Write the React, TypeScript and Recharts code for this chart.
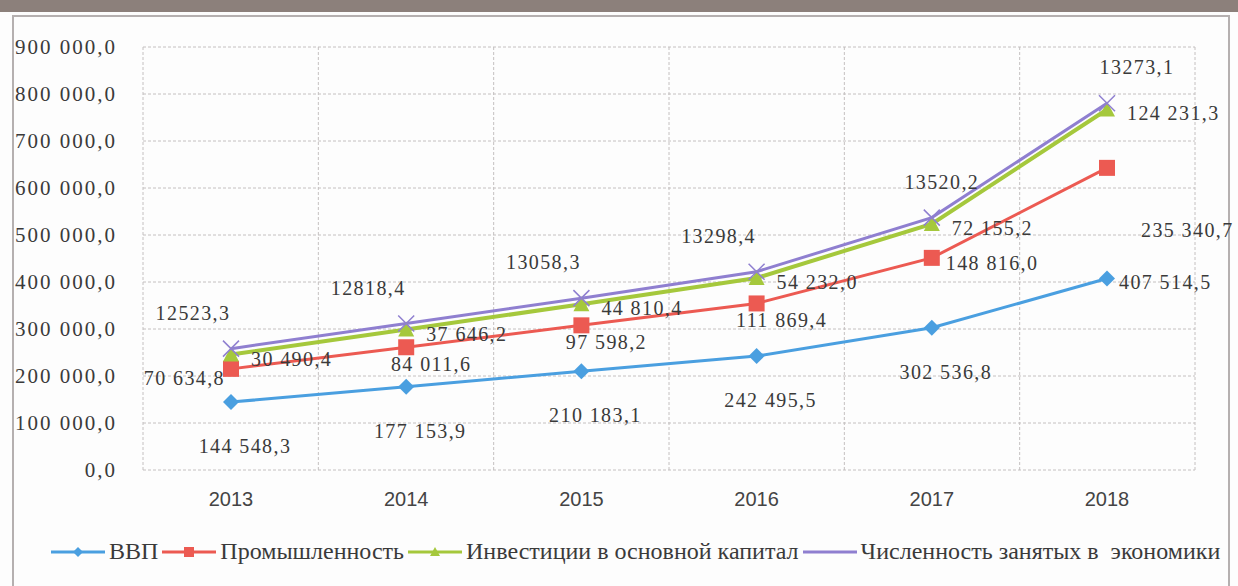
import { AreaChart, Area, XAxis, YAxis, CartesianGrid } from "recharts";

const years = ["2013", "2014", "2015", "2016", "2017", "2018"];
const gdp = [144548.3, 177153.9, 210183.1, 242495.5, 302536.8, 407514.5];
const industry = [70634.8, 84011.6, 97598.2, 111869.4, 148816.0, 235340.7];
const investment = [30490.4, 37646.2, 44810.4, 54232.0, 72155.2, 124231.3];
const employed = [12523.3, 12818.4, 13058.3, 13298.4, 13520.2, 13273.1];
const yTicks = [0, 100000, 200000, 300000, 400000, 500000, 600000, 700000, 800000, 900000];

const names = {
  gdp: "ВВП",
  industry: "Промышленность",
  investment: "Инвестиции в основной капитал",
  employed: "Численность занятых в  экономики",
};

const colors = {
  gdp: "#4a9fe0",
  industry: "#ec5a52",
  investment: "#a5c83c",
  employed: "#8f7fd0",
};

const data = years.map((year, i) => ({
  year,
  gdp: gdp[i],
  industry: industry[i],
  investment: investment[i],
  employed: employed[i],
}));

const serif = "'Liberation Serif', 'Times New Roman', serif";

// 900 000,0
const fmtSpaced = (v: number) => {
  const [int, dec] = v.toFixed(1).split(".");
  return int.replace(/\B(?=(\d{3})+(?!\d))/g, " ") + "," + dec;
};
const fmtPlain = (v: number) => v.toFixed(1).replace(".", ",");

const Diamond = (props: any) => {
  const { cx, cy, key } = props;
  if (cx == null || cy == null) return null;
  const r = 8;
  return (
    <path
      key={key}
      d={`M${cx},${cy - r}L${cx + r},${cy}L${cx},${cy + r}L${cx - r},${cy}Z`}
      fill={colors.gdp}
    />
  );
};

const Square = (props: any) => {
  const { cx, cy, key } = props;
  if (cx == null || cy == null) return null;
  const s = 8;
  return <rect key={key} x={cx - s} y={cy - s} width={s * 2} height={s * 2} fill={colors.industry} />;
};

const Triangle = (props: any) => {
  const { cx, cy, key } = props;
  if (cx == null || cy == null) return null;
  return (
    <path
      key={key}
      d={`M${cx},${cy - 8}L${cx + 8},${cy + 7}L${cx - 8},${cy + 7}Z`}
      fill={colors.investment}
    />
  );
};

const Cross = (props: any) => {
  const { cx, cy, key } = props;
  if (cx == null || cy == null) return null;
  const r = 8;
  return (
    <path
      key={key}
      d={`M${cx - r},${cy - r}L${cx + r},${cy + r}M${cx - r},${cy + r}L${cx + r},${cy - r}`}
      stroke={colors.employed}
      strokeWidth={1.5}
      fill="none"
    />
  );
};

const labelText = (x: number, y: number, text: string, anchor: string, key: any) => (
  <text
    key={key}
    x={x}
    y={y}
    textAnchor={anchor as any}
    dominantBaseline="central"
    fontFamily={serif}
    fontSize={20}
    letterSpacing={1.4}
    fill="#3a3a3a"
  >
    {text}
  </text>
);

const gdpLabel = (p: any) => {
  const i = p.index;
  if (i === gdp.length - 1) return labelText(p.x + 12, p.y + 4, fmtSpaced(gdp[i]), "start", p.key);
  return labelText(p.x + 14, p.y + 44, fmtSpaced(gdp[i]), "middle", p.key);
};

const industryLabel = (p: any) => {
  const i = p.index;
  const t = fmtSpaced(industry[i]);
  if (i === 0) return labelText(p.x - 6, p.y + 9, t, "end", p.key);
  if (i === 4) return labelText(p.x + 14, p.y + 5, t, "start", p.key);
  if (i === 5) return labelText(p.x + 34, p.y + 62, t, "start", p.key);
  return labelText(p.x + 25, p.y + 17, t, "middle", p.key);
};

const investmentLabel = (p: any) => {
  const i = p.index;
  return labelText(p.x + 20, p.y + 4, fmtSpaced(investment[i]), "start", p.key);
};

const employedLabel = (p: any) => {
  const i = p.index;
  let dx = -38;
  if (i === 4) dx = 10;
  if (i === 5) dx = 30;
  return labelText(p.x + dx, p.y - 36, fmtPlain(employed[i]), "middle", p.key);
};

const boundaryLines = ({ offset }: any) => {
  const out: number[] = [];
  for (let i = 0; i <= years.length; i++) out.push(offset.left + (offset.width * i) / years.length);
  return out;
};

const legendItems = [
  { key: "gdp", shape: "diamond" },
  { key: "industry", shape: "square" },
  { key: "investment", shape: "triangle" },
  { key: "employed", shape: "cross" },
];

const LegendMark = ({ color, shape }: { color: string; shape: string }) => (
  <svg width={54} height={14} style={{ display: "block" }}>
    <line x1={0} y1={7} x2={54} y2={7} stroke={color} strokeWidth={3} />
    {shape === "diamond" && <path d="M27,2L32,7L27,12L22,7Z" fill={color} />}
    {shape === "square" && <rect x={22} y={2} width={10} height={10} fill={color} />}
    {shape === "triangle" && <path d="M27,2L32,11L22,11Z" fill={color} />}
  </svg>
);

export default function App() {
  return (
    <div
      style={{
        position: "absolute",
        left: 0,
        top: 0,
        width: 1238,
        height: 586,
        background: "#fdfdfd",
        overflow: "hidden",
      }}
    >
      <div style={{ position: "absolute", left: 0, top: 0, width: 1238, height: 12, background: "#8c807b" }} />
      <div
        style={{
          position: "absolute",
          left: 12,
          top: 15,
          width: 1214,
          height: 580,
          border: "2px solid #b5b0b0",
        }}
      />
      <div style={{ position: "absolute", left: 0, top: 0 }}>
        <AreaChart width={1238} height={586} data={data} margin={{ top: 47, right: 43, left: 13, bottom: 76 }}>
          <CartesianGrid
            stroke="#c4c0c0"
            strokeDasharray="3 2"
            verticalCoordinatesGenerator={boundaryLines}
          />
          <XAxis
            dataKey="year"
            axisLine={false}
            tickLine={false}
            height={40}
            padding={{ left: 88, right: 88 }}
            tick={{ fontFamily: "'Liberation Sans', Arial, sans-serif", fontSize: 20, fill: "#444" }}
            tickMargin={16}
          />
          <YAxis
            domain={[0, 900000]}
            ticks={yTicks}
            interval={0}
            width={130}
            axisLine={false}
            tickLine={false}
            tickFormatter={fmtSpaced}
            tickMargin={20}
            tick={{ fontFamily: serif, fontSize: 21, fill: "#3a3a3a", letterSpacing: 2 }}
          />
          <Area
            dataKey="gdp"
            stackId="s"
            stroke={colors.gdp}
            strokeWidth={3}
            fill="none"
            fillOpacity={0}
            dot={Diamond}
            activeDot={false}
            label={gdpLabel}
            isAnimationActive={false}
          />
          <Area
            dataKey="industry"
            stackId="s"
            stroke={colors.industry}
            strokeWidth={3}
            fill="none"
            fillOpacity={0}
            dot={Square}
            activeDot={false}
            label={industryLabel}
            isAnimationActive={false}
          />
          <Area
            dataKey="investment"
            stackId="s"
            stroke={colors.investment}
            strokeWidth={4}
            fill="none"
            fillOpacity={0}
            dot={Triangle}
            activeDot={false}
            label={investmentLabel}
            isAnimationActive={false}
          />
          <Area
            dataKey="employed"
            stackId="s"
            stroke={colors.employed}
            strokeWidth={3}
            fill="none"
            fillOpacity={0}
            dot={Cross}
            activeDot={false}
            label={employedLabel}
            isAnimationActive={false}
          />
        </AreaChart>
      </div>
      <div
        style={{
          position: "absolute",
          left: 51,
          top: 538,
          display: "flex",
          alignItems: "center",
          fontFamily: serif,
          fontSize: 24,
          color: "#3a3a3a",
          whiteSpace: "pre",
        }}
      >
        {legendItems.map((it) => (
          <div key={it.key} style={{ display: "flex", alignItems: "center", marginRight: 4 }}>
            <LegendMark color={(colors as any)[it.key]} shape={it.shape} />
            <span style={{ marginLeft: 4 }}>{(names as any)[it.key]}</span>
          </div>
        ))}
      </div>
    </div>
  );
}
